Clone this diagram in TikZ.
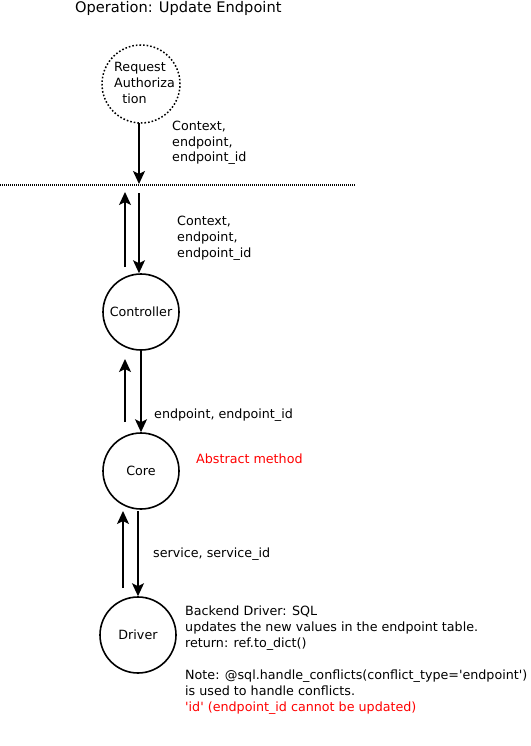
\documentclass[tikz,border=0pt]{standalone}
\usepackage{fontspec}
\setmainfont{DejaVu Sans}
\usetikzlibrary{arrows.meta}
\newcommand{\sq}{\textquotesingle}
\begin{document}
\begin{tikzpicture}[x=1pt,y=-1pt,
  every node/.style={font=\fontsize{12.7}{16}\selectfont, inner sep=0pt},
  proc/.style={circle, draw, line width=1.6pt, minimum size=76pt},
  flow/.style={line width=1.6pt, -{Stealth[length=13pt,width=12pt,inset=3pt]}},
  lbl/.style={anchor=base west, align=left},
  redtxt/.style={text=red}]
\useasboundingbox (0,0) rectangle (530,746);
\node[anchor=base west, font=\fontsize{14.6}{16}\selectfont] (title) at (75,13) {Operation: Update Endpoint};
\node[proc, dotted, line width=1.5pt, minimum size=78pt] (auth) at (141,84) {};
\node[lbl] (authtxt) at (114,104) {Request\\Authoriza\\\ \ tion};
\coordinate (lineL) at (0,185);
\coordinate (lineR) at (355,185);
\draw[line width=1.2pt, dash pattern=on 1pt off 1pt] (lineL) -- (lineR);
\coordinate (a1) at (139,123);
\coordinate (a2) at (139,184);
\draw[flow] (a1) -- (a2);
\node[lbl] (l1) at (172,162) {Context,\\endpoint,\\endpoint\_id};
\node[proc] (ctrl) at (141,312) {Controller};
\coordinate (b1) at (125,267);
\coordinate (b2) at (125,192);
\draw[flow] (b1) -- (b2);
\coordinate (c1) at (139,193);
\draw[flow] (c1) -- (ctrl.north -| c1);
\node[lbl] (l2) at (177,257) {Context,\\endpoint,\\endpoint\_id};
\node[proc] (core) at (141,471) {Core};
\coordinate (d1) at (125,422);
\coordinate (d2) at (125,359);
\draw[flow] (d1) -- (d2);
\draw[flow] (ctrl.south) -- (core.north);
\node[lbl] (l3) at (154,418) {endpoint, endpoint\_id};
\node[lbl, redtxt] (abs) at (196,463) {Abstract method};
\node[proc] (drv) at (138,635) {Driver};
\coordinate (e1) at (123,588);
\coordinate (e2) at (123,511);
\draw[flow] (e1) -- (e2);
\coordinate (f1) at (138,511);
\draw[flow] (f1) -- (drv.north -| f1);
\node[lbl] (l4) at (153,557) {service, service\_id};
\node[lbl] (note) at (185,711) {Backend Driver: SQL\\updates the new values in the endpoint table.\\return: ref.to\_dict()\\[16pt]Note: @sql.handle\_conflicts(conflict\_type=\sq endpoint\sq)\\is used to handle conflicts.\\\textcolor{red}{\sq id\sq\ (endpoint\_id cannot be updated)}};
\end{tikzpicture}
\end{document}
